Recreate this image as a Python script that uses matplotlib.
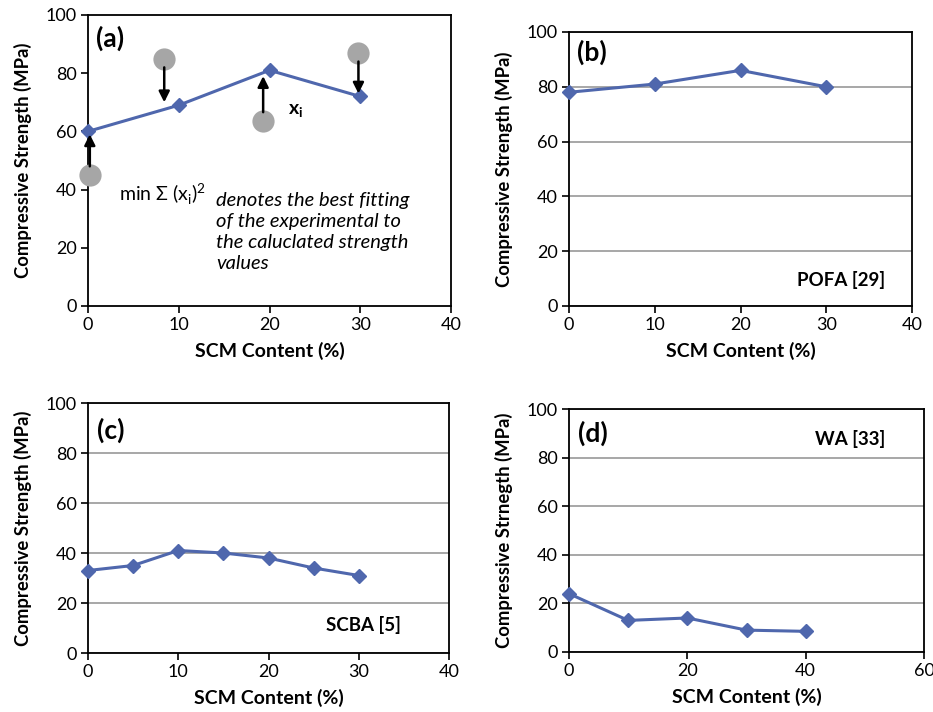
import matplotlib
matplotlib.use("Agg")
import matplotlib.pyplot as plt

plt.rcParams["font.family"] = ["Lato", "DejaVu Sans"]

LINE = "#4f67ad"
CIRC = "#a6a6a6"
GRID = "#a0a0a0"

# panel (a): calculated curve and experimental points
a_x = [0, 10, 20, 30]
a_y = [60, 69, 81, 72]
a_exp_x = [0.2, 8.4, 19.3, 29.8]
a_exp_y = [45, 85, 63.6, 87]
a_tip_y = [59, 70, 79, 73]

# panel (b): POFA
b_x = [0, 10, 20, 30]
b_y = [78, 81, 86, 80]

# panel (c): SCBA
c_x = [0, 5, 10, 15, 20, 25, 30]
c_y = [33, 35, 41, 40, 38, 34, 31]

# panel (d): WA
d_x = [0, 10, 20, 30, 40]
d_y = [24, 13, 14, 9, 8.5]

W, H = 933, 712
fig = plt.figure(figsize=(W / 100, H / 100), dpi=100)


def px_axes(l, t, r, b):
    return fig.add_axes([l / W, (H - b) / H, (r - l) / W, (b - t) / H])


def style(ax, xmax, xstep, ylabel, grid=True):
    ax.set_xlim(0, xmax)
    ax.set_ylim(0, 100)
    ax.set_xticks(range(0, xmax + 1, xstep))
    ax.set_yticks(range(0, 101, 20))
    for s in ax.spines.values():
        s.set_linewidth(1.3)
        s.set_color("black")
    ax.tick_params(direction="out", length=5, width=1.2, labelsize=13, pad=3)
    if grid:
        ax.yaxis.grid(True, color=GRID, lw=1.3)
        ax.set_axisbelow(True)
    ax.set_xlabel("SCM Content (%)", fontsize=14, weight="bold", labelpad=6)
    ax.set_ylabel(ylabel, fontsize=13.3, weight="bold", labelpad=10)


def series(ax, x, y):
    ax.plot(x, y, color=LINE, lw=2.2, marker="D", ms=7.5, clip_on=False, zorder=4)


# (a)
ax = px_axes(88, 15, 451, 306)
style(ax, 40, 10, "Compressive Strength (MPa)", grid=False)
series(ax, a_x, a_y)
ax.plot(a_exp_x, a_exp_y, "o", color=CIRC, ms=16, mec="none", clip_on=False, zorder=3)
for xe, ye, yt in zip(a_exp_x, a_exp_y, a_tip_y):
    start = ye + 3 if yt > ye else ye - 3
    ax.annotate("", xy=(xe, yt), xytext=(xe, start),
                arrowprops=dict(arrowstyle="-|>", color="black", lw=1.8,
                                mutation_scale=16, shrinkA=0, shrinkB=0), zorder=5)
ax.text(0.9, 92, "(a)", fontsize=19, weight="bold", va="center")
ax.text(22.0, 67, r"x$_\mathregular{i}$", fontsize=14, weight="bold", va="center")
ax.text(3.4, 38.2, r"min Σ (x$_\mathregular{i}$)$^\mathregular{2}$", fontsize=14, va="center")
ax.text(14.1, 25.3, "denotes the best fitting\nof the experimental to\nthe caluclated strength\nvalues",
        fontsize=14.5, style="italic", va="center", linespacing=1.29)

# (b)
ax = px_axes(569, 32, 912, 306)
style(ax, 40, 10, "Compressive Strength (MPa)")
series(ax, b_x, b_y)
ax.text(0.9, 92.5, "(b)", fontsize=19, weight="bold", va="center")
ax.text(36.9, 9.5, "POFA [29]", fontsize=13.5, weight="bold", va="center", ha="right")

# (c)
ax = px_axes(88, 403, 449, 653)
style(ax, 40, 10, "Compressive Strength (MPa)")
series(ax, c_x, c_y)
ax.text(1.0, 89, "(c)", fontsize=19, weight="bold", va="center")
ax.text(34.7, 11, "SCBA [5]", fontsize=13.5, weight="bold", va="center", ha="right")

# (d)
ax = px_axes(569, 409, 924, 652)
style(ax, 60, 20, "Compressive Strnegth (MPa)")
series(ax, d_x, d_y)
ax.text(1.5, 90, "(d)", fontsize=19, weight="bold", va="center")
ax.text(53.4, 87.7, "WA [33]", fontsize=13.5, weight="bold", va="center", ha="right")

fig.savefig("out.png", dpi=100)
